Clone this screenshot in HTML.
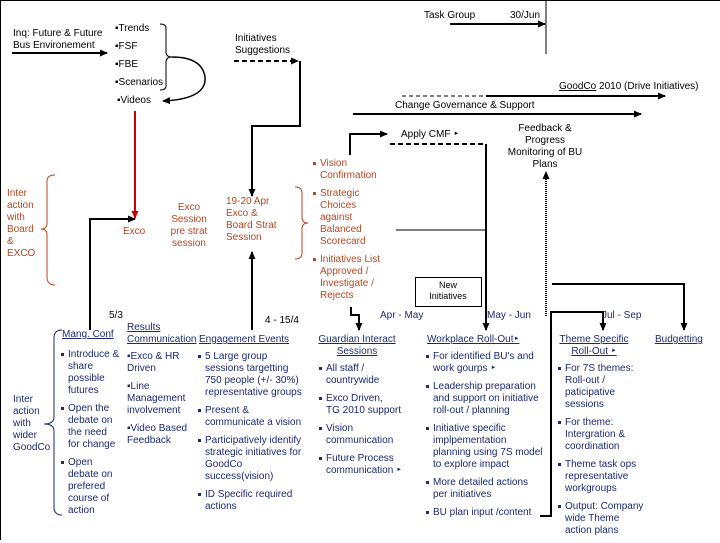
<!DOCTYPE html>
<html><head><meta charset="utf-8"><style>
body{margin:0;width:720px;height:540px;position:relative;background:#fff;font-family:"Liberation Sans",sans-serif;font-size:10px;overflow:hidden}
.t{position:absolute;line-height:12px;white-space:nowrap;color:#000}
.r{color:#b8461f}
.b{color:#1c2a6e}
.u{text-decoration:underline}
ul{margin:0;padding:0;list-style:none}
li{position:relative;padding-left:8px;margin-bottom:6px}
li:before{content:"";position:absolute;left:1px;top:4px;width:3px;height:3px;background:currentColor}
.c{text-align:center}
</style></head><body>
<svg width="720" height="540" style="position:absolute;left:0;top:0">
<defs><marker id="a" markerUnits="userSpaceOnUse" markerWidth="8" markerHeight="8" refX="7" refY="4" orient="auto"><path d="M0,0.5L8,4L0,7.5z" fill="#000"/></marker>
<marker id="ar" markerUnits="userSpaceOnUse" markerWidth="8" markerHeight="8" refX="7" refY="4" orient="auto"><path d="M0,0.5L8,4L0,7.5z" fill="#c00"/></marker></defs>
<g fill="none" stroke="#000">
<path d="M0.5,540V0.5H720"/>
<path d="M12,53H107" stroke-width="2" marker-end="url(#a)"/>
<path d="M160,24q6,0 6,4v24q0,5 6,5q-6,0 -6,5v24q0,4 -6,4"/>
<path d="M172,57q30,0 33,20q2,22 -42,24" stroke-width="1.5" marker-end="url(#a)"/>
<path d="M234,61H298" stroke-width="2" stroke-dasharray="5,3" marker-end="url(#a)"/>
<path d="M300,61V126H252V196" stroke-width="2" marker-end="url(#a)"/>
<path d="M252,330V252" stroke-width="2" marker-end="url(#a)"/>
<path d="M90,330V219H135" stroke-width="2" marker-end="url(#a)"/>
<path d="M450,24H545" stroke-width="2" marker-end="url(#a)"/>
<path d="M546,0V54"/>
<path d="M402,96H486" stroke-dasharray="4,3"/>
<path d="M486,96H665" stroke-width="2" marker-end="url(#a)"/>
<path d="M353,114H641" stroke-width="2" marker-end="url(#a)"/>
<path d="M350,155V134H387" stroke-width="2" marker-end="url(#a)"/>
<path d="M390,144H484" stroke-width="2" stroke-dasharray="5,3"/>
<path d="M486,144V330" stroke-width="2" marker-end="url(#a)"/>
<path d="M396,230H486"/>
<path d="M546,316V172" stroke-width="2" stroke-dasharray="1,1" marker-end="url(#a)"/>
<path d="M552,284H684V330" stroke-width="2" marker-end="url(#a)"/>
<path d="M540,516H551V312H603V330" stroke-width="2" marker-end="url(#a)"/>
<path d="M351,307V315H359V330" stroke-width="2" marker-end="url(#a)"/>
<rect x="415.5" y="277.5" width="66" height="29"/>
</g>
<path d="M135,111V218" stroke="#c00" stroke-width="2" fill="none" marker-end="url(#ar)"/>
<path d="M55,175q-8,0 -8,6v42q0,6 -6,6q6,0 6,6v42q0,8 8,8" stroke="#b8461f" fill="none"/>
<path d="M295,187q7,0 7,6v24q0,6 6,6q-6,0 -6,6v24q0,6 -7,6" stroke="#b8461f" fill="none"/>
<path d="M62,330q-8,0 -8,8v79q0,7 -10,7q10,0 10,7v76q0,8 8,8" stroke="#1c2a6e" fill="none"/>
</svg>
<div class="t" style="left:13px;top:28px">Inq: Future &amp; Future<br>Bus Environement</div>
<div class="t" style="left:115px;top:20px;line-height:18px">▪Trends<br>▪FSF<br>▪FBE<br>▪Scenarios</div>
<div class="t" style="left:117px;top:95px">▪Videos</div>
<div class="t" style="left:235px;top:33px">Initiatives<br>Suggestions</div>
<div class="t" style="left:424px;top:10px">Task Group</div>
<div class="t" style="left:510px;top:10px">30/Jun</div>
<div class="t" style="left:559px;top:81px"><span class="u">GoodCo</span> 2010 (Drive Initiatives)</div>
<div class="t" style="left:395px;top:100px">Change Governance &amp; Support</div>
<div class="t" style="left:401px;top:129px">Apply CMF ‣</div>
<div class="t c" style="left:500px;top:123px;width:90px">Feedback &amp;<br>Progress<br>Monitoring of BU<br>Plans</div>
<div class="t r" style="left:7px;top:188px">Inter<br>action<br>with<br>Board<br>&amp;<br>EXCO</div>
<div class="t r" style="left:123px;top:226px">Exco</div>
<div class="t r c" style="left:165px;top:202px;width:48px">Exco<br>Session<br>pre strat<br>session</div>
<div class="t r" style="left:226px;top:196px">19-20 Apr<br>Exco &amp;<br>Board Strat<br>Session</div>
<div class="t r" style="left:312px;top:158px;line-height:12px"><ul><li>Vision<br>Confirmation</li><li>Strategic<br>Choices<br>against<br>Balanced<br>Scorecard</li><li>Initiatives List<br>Approved /<br>Investigate /<br>Rejects</li></ul></div>
<div class="t c" style="left:415px;top:280px;width:66px;font-size:9px;line-height:11px">New<br>Initiatives</div>
<div class="t b" style="left:380px;top:310px">Apr - May</div>
<div class="t b" style="left:487px;top:310px">May - Jun</div>
<div class="t b" style="left:602px;top:310px">Jul - Sep</div>
<div class="t" style="left:109px;top:310px">5/3</div>
<div class="t" style="left:265px;top:315px">4 - 15/4</div>
<div class="t b" style="left:13px;top:394px">Inter<br>action<br>with<br>wider<br>GoodCo</div>
<div class="t b u" style="left:62px;top:329px">Mang. Conf</div>
<div class="t b" style="left:60px;top:349px"><ul><li>Introduce &amp;<br>share<br>possible<br>futures</li><li>Open the<br>debate on<br>the need<br>for change</li><li>Open<br>debate on<br>prefered<br>course of<br>action</li></ul></div>
<div class="t b u" style="left:127px;top:322px">Results<br>Communication</div>
<div class="t b" style="left:127px;top:351px;line-height:12px">▪Exco &amp; HR<br>Driven<br><div style="height:6px"></div>▪Line<br>Management<br>involvement<br><div style="height:6px"></div>▪Video Based<br>Feedback</div>
<div class="t b u" style="left:199px;top:334px">Engagement Events</div>
<div class="t b" style="left:197px;top:351px"><ul><li>5 Large group<br>sessions targetting<br>750 people (+/- 30%)<br>representative groups</li><li>Present &amp;<br>communicate a vision</li><li>Participatively identify<br>strategic initiatives for<br>GoodCo<br>success(vision)</li><li>ID Specific required<br>actions</li></ul></div>
<div class="t b u c" style="left:312px;top:334px;width:90px">Guardian Interact<br>Sessions</div>
<div class="t b" style="left:318px;top:363px"><ul><li>All staff /<br>countrywide</li><li>Exco Driven,<br>TG 2010 support</li><li>Vision<br>communication</li><li>Future Process<br>communication ‣</li></ul></div>
<div class="t b u" style="left:427px;top:334px">Workplace Roll-Out‣</div>
<div class="t b" style="left:425px;top:351px"><ul><li>For identified BU's and<br>work gourps ‣</li><li>Leadership preparation<br>and support on initiative<br>roll-out / planning</li><li>Initiative specific<br>implpementation<br>planning using 7S model<br>to explore impact</li><li>More detailed actions<br>per initiatives</li><li>BU plan input /content</li></ul></div>
<div class="t b u c" style="left:556px;top:334px;width:76px">Theme Specific<br>Roll-Out ‣</div>
<div class="t b" style="left:557px;top:363px"><ul><li>For 7S themes:<br>Roll-out /<br>paticipative<br>sessions</li><li>For theme:<br>Intergration &amp;<br>coordination</li><li>Theme task ops<br>representative<br>workgroups</li><li>Output: Company<br>wide Theme<br>action plans</li></ul></div>
<div class="t b u" style="left:655px;top:334px">Budgetting</div>
</body></html>
